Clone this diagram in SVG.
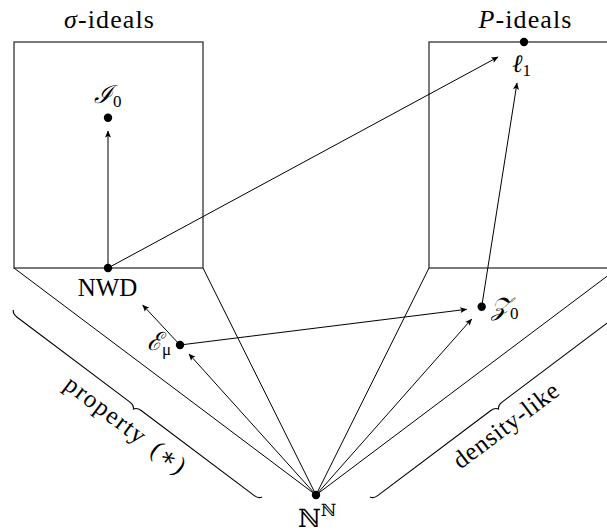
<svg xmlns="http://www.w3.org/2000/svg" width="607" height="532" viewBox="0 0 607 532">
<style>
  .t { font-family: 'Liberation Serif', 'DejaVu Serif', serif; font-size: 25px; fill: #000; }
  .h { font-size: 26px; letter-spacing: 1.1px; }
  .sub { font-size: 17px; font-style: normal; }
  .box { fill: none; stroke: #333; stroke-width: 1.3; }
  .ln { fill: none; stroke: #000; stroke-width: 1; }
  .arr { fill: none; stroke: #000; stroke-width: 1; marker-end: url(#ah); }
  .dot { fill: #000; }
  .brace { fill: none; stroke: #000; stroke-width: 1.1; }
</style>
<defs>
  <marker id="ah" markerUnits="userSpaceOnUse" orient="auto" refX="0" refY="0" markerWidth="10" markerHeight="8" viewBox="-8 -4 10 8" overflow="visible">
    <path d="M0.5,0 L-6.5,-3 L-5,0 L-6.5,3 Z" fill="#000"/>
  </marker>
  <path id="bracePath" d="M0,0 C1.05,2.1 3.5,3.5 7,3.5 L148.6,3.5 C152.1,3.5 154.55,4.9 155.6,7 C156.65,4.9 159.1,3.5 162.6,3.5 L304.2,3.5 C307.7,3.5 310.15,2.1 311.2,0"/>
</defs>

<g id="sigma-box">
  <rect class="box" x="14" y="42" width="189" height="226"/>
  <text class="t h" x="109.5" y="28" text-anchor="middle"><tspan font-style="italic">σ</tspan>-ideals</text>
</g>
<g id="P-box">
  <rect class="box" x="429" y="42" width="189" height="226"/>
  <text class="t h" x="525.5" y="28" text-anchor="middle"><tspan font-style="italic">P</tspan>-ideals</text>
</g>

<g id="cone-lines">
  <line class="ln" x1="14" y1="268" x2="316" y2="495"/>
  <line class="ln" x1="203" y1="268" x2="316" y2="495"/>
  <line class="ln" x1="429" y1="268" x2="316" y2="495"/>
  <line class="ln" x1="618" y1="268" x2="316" y2="495"/>
</g>

<g id="connectors">
  <line class="arr" x1="108" y1="268" x2="108" y2="131"/>
  <line class="arr" x1="108" y1="268" x2="498" y2="57"/>
  <line class="arr" x1="481.7" y1="306.7" x2="517" y2="83"/>
  <line class="arr" x1="180" y1="345" x2="142.7" y2="305"/>
  <line class="arr" x1="316" y1="495" x2="189" y2="354"/>
  <line class="arr" x1="180" y1="345" x2="466.7" y2="309.3"/>
  <line class="arr" x1="316" y1="495" x2="471.7" y2="319"/>
</g>

<g id="node-I0">
  <circle class="dot" cx="108" cy="117.7" r="4.2"/>
  <text class="t" x="94" y="103" font-style="italic">ℐ<tspan class="sub" dy="4">0</tspan></text>
</g>
<g id="node-l1">
  <circle class="dot" cx="524" cy="42" r="4.2"/>
  <text class="t" x="512" y="71.5" font-style="italic">ℓ<tspan class="sub" dy="4">1</tspan></text>
</g>
<g id="node-NWD">
  <circle class="dot" cx="108" cy="268" r="4.2"/>
  <text class="t" x="107.5" y="296" text-anchor="middle">NWD</text>
</g>
<g id="node-Emu">
  <circle class="dot" cx="180" cy="345" r="4.2"/>
  <text class="t" x="171" y="350" text-anchor="end" font-style="italic">ℰ<tspan class="sub" font-style="italic" dy="5">μ</tspan></text>
</g>
<g id="node-Z0">
  <circle class="dot" cx="481.7" cy="306.7" r="4.2"/>
  <text class="t" x="491" y="315" font-style="italic">𝒵<tspan class="sub" dy="4">0</tspan></text>
</g>
<g id="node-NN">
  <circle class="dot" cx="316" cy="495" r="4.2"/>
  <text class="t" x="298" y="527">ℕ<tspan class="sub" dy="-11">ℕ</tspan></text>
</g>

<g id="brace-left">
  <use href="#bracePath" class="brace" transform="translate(13.3,310) rotate(36.94)"/>
  <text class="t" font-size="26" letter-spacing="1.5" word-spacing="4" transform="translate(121,431.7) rotate(37.05)" text-anchor="middle">property (∗)</text>
</g>
<g id="brace-right">
  <use href="#bracePath" class="brace" transform="translate(632,0) scale(-1,1) translate(13.3,310) rotate(36.94)"/>
  <text class="t" font-size="26" letter-spacing="0.7" transform="translate(511,431.7) rotate(-37.05)" text-anchor="middle">density-like</text>
</g>
</svg>
